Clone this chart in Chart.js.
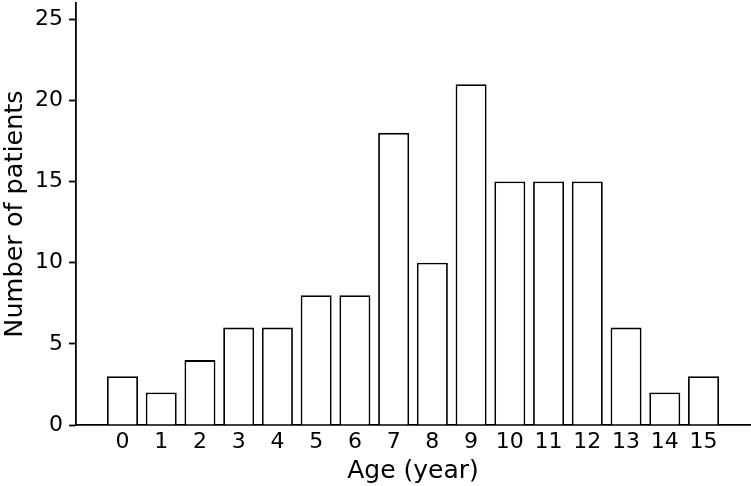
<!DOCTYPE html>
<html>
<head>
<meta charset="utf-8">
<script src="https://cdn.jsdelivr.net/npm/chart.js@4/dist/chart.umd.min.js"></script>
<style>
  html, body { margin: 0; padding: 0; background: #fff; }
  #wrap { width: 751px; height: 486px; }
</style>
</head>
<body>
<div id="wrap"><canvas id="myChart"></canvas></div>
<script>
// data
var ages = [0, 1, 2, 3, 4, 5, 6, 7, 8, 9, 10, 11, 12, 13, 14, 15];
var patients = [3, 2, 4, 6, 6, 8, 8, 18, 10, 21, 15, 15, 15, 6, 2, 3];
var yTicks = [0, 5, 10, 15, 20, 25];

var points = [];
for (var i = 0; i < ages.length; i++) {
  points.push({ x: ages[i], y: patients[i] });
}

Chart.defaults.font.family = 'DejaVu Sans';
Chart.defaults.color = '#000';

var myChart = new Chart(document.getElementById('myChart'), {
  type: 'bar',
  data: {
    datasets: [{
      data: points,
      backgroundColor: '#fff',
      borderColor: '#000',
      borderWidth: 1.8,
      barPercentage: 0.8,
      categoryPercentage: 1
    }]
  },
  options: {
    responsive: true,
    maintainAspectRatio: false,
    animation: false,
    layout: { padding: { top: 3, right: 1, left: 0, bottom: 0 } },
    plugins: { legend: { display: false }, tooltip: { enabled: false } },
    scales: {
      x: {
        type: 'linear',
        offset: false,
        min: -1.2,
        max: 16.2,
        afterBuildTicks: function(scale) {
          scale.ticks = ages.map(function(v) { return { value: v }; });
        },
        afterFit: function(scale) {
          scale.height = 61;
          scale.paddingLeft = 0;
          scale.paddingRight = 0;
        },
        grid: { drawOnChartArea: false, drawTicks: false },
        border: { display: true, color: '#000', width: 1.8 },
        ticks: { font: { size: 22 }, padding: 4, maxRotation: 0, autoSkip: false },
        title: { display: true, text: 'Age (year)', font: { size: 25 }, padding: { top: 0, bottom: 0 } }
      },
      y: {
        min: 0,
        max: 26,
        afterBuildTicks: function(scale) {
          scale.ticks = yTicks.map(function(v) { return { value: v }; });
        },
        afterFit: function(scale) {
          scale.width = 76;
          scale.paddingTop = 0;
          scale.paddingBottom = 0;
        },
        grid: { drawOnChartArea: false, drawTicks: true, tickLength: 7, color: '#000', tickWidth: 1.8 },
        border: { display: true, color: '#000', width: 1.8 },
        ticks: { font: { size: 22 }, padding: 6 },
        title: { display: true, text: 'Number of patients', font: { size: 25.5 }, padding: { top: 0, bottom: 2 } }
      }
    }
  }
});
</script>
</body>
</html>
